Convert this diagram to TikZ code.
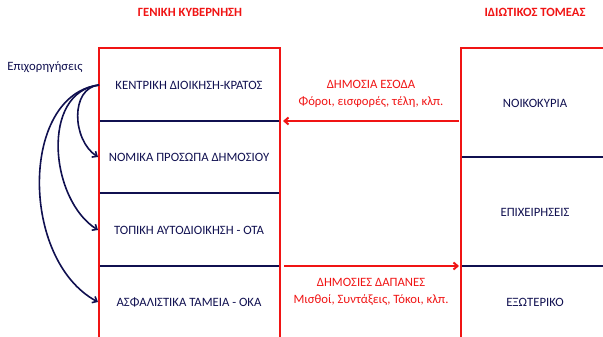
\documentclass[tikz,border=0pt]{standalone}
\usepackage{fontspec}
\setmainfont{Carlito}
\usetikzlibrary{arrows.meta}
\definecolor{navy}{RGB}{16,16,80}
\definecolor{redc}{RGB}{240,20,20}
\begin{document}
\begin{tikzpicture}[x=1pt,y=-1pt,
  every node/.style={font=\fontsize{12.7}{15}\selectfont, inner sep=1pt},
  title/.style={text=redc, font=\fontsize{12.6}{15}\selectfont\bfseries},
  boxtext/.style={text=navy},
  flowtext/.style={text=redc, align=center, font=\fontsize{12.7}{17.5}\selectfont},
  frame/.style={draw=redc, line width=2pt},
  divider/.style={draw=navy, line width=2pt},
  flow/.style={draw=redc, line width=2pt, -{Straight Barb[length=4pt,width=7pt]}},
  grant/.style={draw=navy, line width=1.6pt, -{Straight Barb[length=4pt,width=7pt]}}]
\useasboundingbox (0,0) rectangle (603,337);
% frames
\draw[frame] (99,340) -- (99,48) -- (280,48) -- (280,340);
\draw[frame] (461,340) -- (461,48) -- (606,48);
% dividers
\draw[divider] (100,121) -- (279,121);
\draw[divider] (100,193) -- (279,193);
\draw[divider] (100,266) -- (279,266);
\draw[divider] (462,157) -- (606,157);
\draw[divider] (462,266) -- (606,266);
% titles
\node[title] (tg) at (190,12) {ΓΕΝΙΚΗ ΚΥΒΕΡΝΗΣΗ};
\node[title] (tp) at (535,12) {ΙΔΙΩΤΙΚΟΣ ΤΟΜΕΑΣ};
% left box texts
\node[boxtext] (kr) at (189,85) {ΚΕΝΤΡΙΚΗ ΔΙΟΙΚΗΣΗ-ΚΡΑΤΟΣ};
\node[boxtext] (np) at (189,157) {ΝΟΜΙΚΑ ΠΡΟΣΩΠΑ ΔΗΜΟΣΙΟΥ};
\node[boxtext] (ota) at (189,230) {ΤΟΠΙΚΗ ΑΥΤΟΔΙΟΙΚΗΣΗ - ΟΤΑ};
\node[boxtext] (oka) at (189,302) {ΑΣΦΑΛΙΣΤΙΚΑ ΤΑΜΕΙΑ - ΟΚΑ};
% right box texts
\node[boxtext] (noi) at (535,103) {ΝΟΙΚΟΚΥΡΙΑ};
\node[boxtext] (epi) at (535,212) {ΕΠΙΧΕΙΡΗΣΕΙΣ};
\node[boxtext] (ext) at (535,302) {ΕΞΩΤΕΡΙΚΟ};
% grants label
\node[boxtext] (ep) at (45,67) {Επιχορηγήσεις};
% flow labels
\node[flowtext] (esoda) at (371,94) {ΔΗΜΟΣΙΑ ΕΣΟΔΑ\\Φόροι, εισφορές, τέλη, κλπ.};
\node[flowtext] (dapanes) at (371,292) {ΔΗΜΟΣΙΕΣ ΔΑΠΑΝΕΣ\\Μισθοί, Συντάξεις, Τόκοι, κλπ.};
% flow arrows
\coordinate (inS) at (459,121);
\coordinate (inE) at (283,121);
\coordinate (outS) at (284,266);
\coordinate (outE) at (459,266);
\draw[flow] (inS) -- (inE);
\draw[flow] (outS) -- (outE);
% grant arrows
\coordinate (src) at (99,85);
\coordinate (t1) at (98,157);
\coordinate (t2) at (98,230);
\coordinate (t3) at (98,302);
\draw[grant] (src) .. controls (70,88) and (72,140) .. (t1);
\draw[grant] (src) .. controls (40,92) and (50,200) .. (t2);
\draw[grant] (src) .. controls (20,95) and (20,260) .. (t3);
\end{tikzpicture}
\end{document}
